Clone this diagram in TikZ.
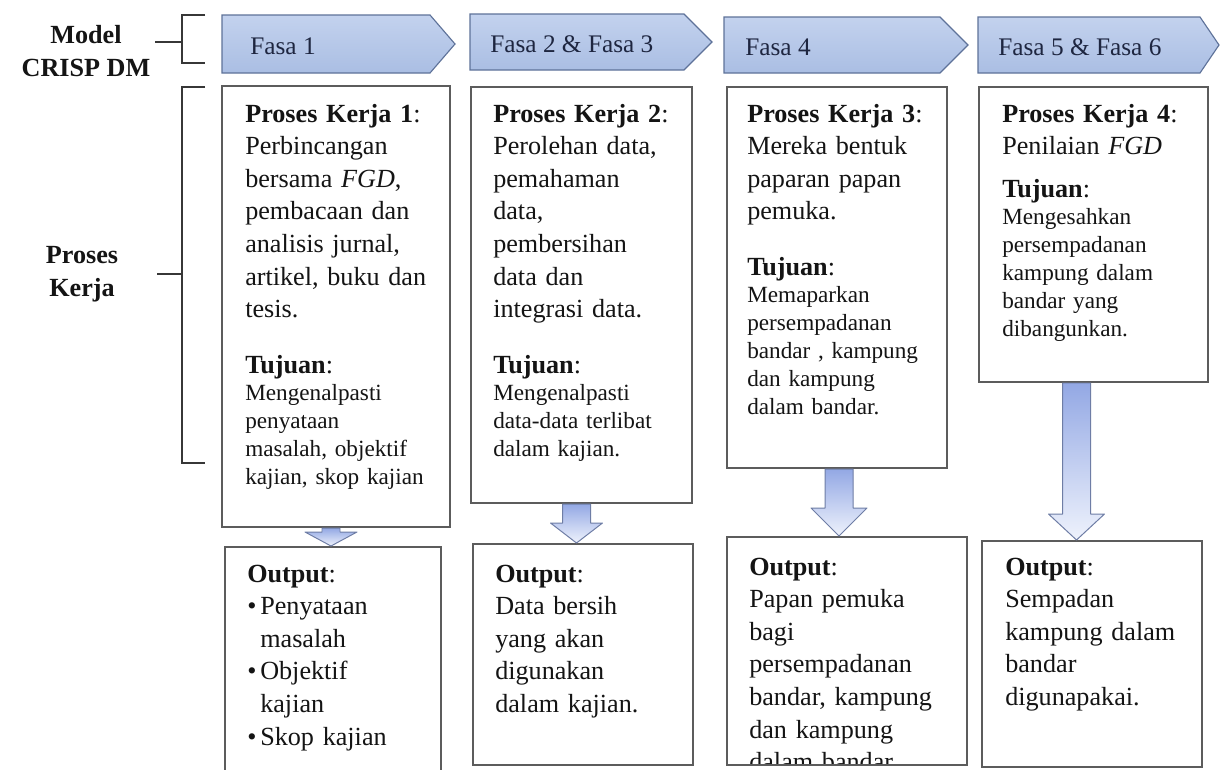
\documentclass[tikz,border=0pt]{standalone}
\usepackage{fontspec}
\setmainfont{Liberation Serif}
\usetikzlibrary{calc,fit}
\definecolor{chevtop}{HTML}{C3D2EE}
\definecolor{chevbot}{HTML}{AABEE3}
\definecolor{chevline}{HTML}{5E7299}
\definecolor{fasaink}{HTML}{1E2640}
\definecolor{boxline}{HTML}{5C5C5C}
\definecolor{arrtop}{HTML}{93A8E4}
\definecolor{arrbot}{HTML}{EEF2FC}
\definecolor{arrline}{HTML}{6E7DA5}
\definecolor{ink}{HTML}{141414}

\newcommand\mainsz{\fontsize{18.6pt}{23.2pt}\selectfont}
\newcommand\subsz{\fontsize{16.5pt}{19.9pt}\selectfont}
\newlength\bind \setlength\bind{0.325cm}
\newcommand\bul{\makebox[\bind][l]{\textbullet}}
% block arrow between two boxes: from, to, x shift, shaft half, head half, head length (all px)
\newcommand\fatarrow[6]{%
  \shade[blockarrow] ($(#1.south)+(#3-#4,1)$)
    -- ($(#1.south |- #2.north)+(#3-#4,-#6-1)$)
    -- ($(#1.south |- #2.north)+(#3-#5,-#6-1)$)
    -- ($(#1.south |- #2.north)+(#3,-1)$)
    -- ($(#1.south |- #2.north)+(#3+#5,-#6-1)$)
    -- ($(#1.south |- #2.north)+(#3+#4,-#6-1)$)
    -- ($(#1.south)+(#3+#4,1)$) -- cycle;}

\begin{document}
\begin{tikzpicture}[x=0.025cm,y=-0.025cm,
  chev/.style={top color=chevtop,bottom color=chevbot,draw=chevline,line width=0.8pt},
  fasatext/.style={font=\fontsize{18pt}{22pt}\selectfont,text=fasaink,inner sep=0pt},
  box/.style={draw=boxline,line width=1.1pt,fill=white,inner sep=0pt,outer sep=0pt},
  headtext/.style={anchor=base west,inner sep=0pt,text width=5.5cm,align=left,font=\mainsz,text=ink},
  aimtext/.style={headtext,font=\subsz},
  side/.style={font=\mainsz\bfseries,align=center,inner sep=2.5pt,text=ink},
  brack/.style={draw=ink!85,line width=1pt},
  blockarrow/.style={top color=arrtop,bottom color=arrbot,draw=arrline,line width=0.7pt,line join=round}]
  \useasboundingbox (0,0) rectangle (1220,769);
  \clip (0,0) rectangle (1220,769);
  \fill[white] (0,0) rectangle (1220,769);

  % row of phases
  \foreach \xa/\xb/\dep/\ya/\yb/\tx/\lab/\nm in {222/455/25/15/73/250/{Fasa 1}/f1,
      470/712/28/14/70/490/{Fasa 2 \& Fasa 3}/f23,
      724/968/28/17/73/745/{Fasa 4}/f4,
      978/1219/19/17/73/998/{Fasa 5 \& Fasa 6}/f56}
  {
    \shade[chev] (\xa,\ya) -- (\xb-\dep,\ya) -- (\xb,{(\ya+\yb)/2}) -- (\xb-\dep,\yb) -- (\xa,\yb) -- cycle;
    \node[fasatext,anchor=west] (\nm) at (\tx,{(\ya+\yb)/2+2}) {\lab};
  }

  % left labels and brackets
  \node[side] (model) at (86,51) {Model\\CRISP DM};
  \node[side] (proc) at (82,274) {Proses\\Kerja};
  \draw[brack] (205,15) -- (182,15) -- (182,63) -- (205,63) (182,42) -- (155,42);
  \draw[brack] (205,87) -- (182,87) -- (182,463) -- (205,463) (182,274) -- (157,274);

  % process boxes
  \node[box,fit={(222,86) (450,527)}] (pk1) {};
  \node[box,fit={(471,87) (692,503)}] (pk2) {};
  \node[box,fit={(727,87) (947,468)}] (pk3) {};
  \node[box,fit={(979,87) (1208,382)}] (pk4) {};

  % output boxes
  \node[box,fit={(225,547) (441,790)}] (out1) {};
  \node[box,fit={(473,544) (693,765)}] (out2) {};
  \node[box,fit={(727,537) (967,765)}] (out3) {};
  \node[box,fit={(982,541) (1202,767)}] (out4) {};

  \node[headtext] (pk1head) at (245,122) {\textbf{Proses Kerja 1}:\\ Perbincangan\\ bersama \textit{FGD},\\ pembacaan dan\\ analisis jurnal,\\ artikel, buku dan\\ tesis.};
  \node[aimtext] (pk1aim) at (245,373) {{\mainsz\textbf{Tujuan}:}\\ Mengenalpasti\\ penyataan\\ masalah, objektif\\ kajian, skop kajian};

  \node[headtext] (pk2head) at (493,122) {\textbf{Proses Kerja 2}:\\ Perolehan data,\\ pemahaman\\ data,\\ pembersihan\\ data dan\\ integrasi data.};
  \node[aimtext] (pk2aim) at (493,373) {{\mainsz\textbf{Tujuan}:}\\ Mengenalpasti\\ data-data terlibat\\ dalam kajian.};

  \node[headtext] (pk3head) at (747,122) {\textbf{Proses Kerja 3}:\\ Mereka bentuk\\ paparan papan\\ pemuka.};
  \node[aimtext] (pk3aim) at (747,275) {{\mainsz\textbf{Tujuan}:}\\ Memaparkan\\ persempadanan\\ bandar , kampung\\ dan kampung\\ dalam bandar.};

  \node[headtext] (pk4head) at (1002,122) {\textbf{Proses Kerja 4}:\\ Penilaian \textit{FGD}};
  \node[aimtext] (pk4aim) at (1002,197) {{\mainsz\textbf{Tujuan}:}\\ Mengesahkan\\ persempadanan\\ kampung dalam\\ bandar yang\\ dibangunkan.};

  \node[headtext] (out1txt) at (247,582) {\textbf{Output}:\\ \bul Penyataan\\ \hspace*{\bind}masalah\\ \bul Objektif\\ \hspace*{\bind}kajian\\ \bul Skop kajian};
  \node[headtext] (out2txt) at (495,582) {\textbf{Output}:\\ Data bersih\\ yang akan\\ digunakan\\ dalam kajian.};
  \begin{scope}
    \clip (out3.north west) rectangle (out3.south east);
    \node[headtext] (out3txt) at (749,575) {\textbf{Output}:\\ Papan pemuka\\ bagi\\ persempadanan\\ bandar, kampung\\ dan kampung\\ dalam bandar.};
  \end{scope}
  \draw[box,fill=none] (out3.north west) rectangle (out3.south east);
  \node[headtext] (out4txt) at (1005,575) {\textbf{Output}:\\ Sempadan\\ kampung dalam\\ bandar\\ digunapakai.};

  % arrows down to the outputs
  \fatarrow{pk1}{out1}{-5}{9}{26}{14}
  \fatarrow{pk2}{out2}{-5}{14}{26}{20}
  \fatarrow{pk3}{out3}{2}{14}{28}{28}
  \fatarrow{pk4}{out4}{-17}{14}{28}{26}
\end{tikzpicture}
\end{document}
